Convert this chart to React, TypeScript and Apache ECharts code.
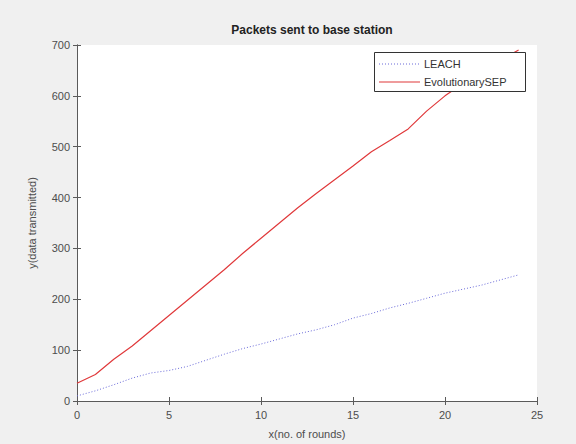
import React, { useEffect, useRef } from "react";
import * as echarts from "echarts";

const rounds = [0, 1, 2, 3, 4, 5, 6, 7, 8, 9, 10, 11, 12, 13, 14, 15, 16, 17, 18, 19, 20, 21, 22, 23, 24];
const leach = [10, 20, 32, 45, 55, 60, 68, 80, 92, 103, 112, 122, 132, 140, 150, 163, 172, 183, 192, 202, 212, 220, 228, 238, 248];
const evoSep = [35, 52, 82, 108, 138, 168, 198, 228, 258, 290, 320, 350, 380, 408, 435, 462, 490, 512, 535, 570, 600, 625, 650, 670, 690];
const seriesNames = ["LEACH", "EvolutionarySEP"];
const xTicks = [0, 5, 10, 15, 20, 25];
const yTicks = [0, 100, 200, 300, 400, 500, 600, 700];

export default function App() {
  const ref = useRef<HTMLDivElement>(null);
  useEffect(() => {
    const chart = echarts.init(ref.current!, null, { renderer: "svg" });
    const axisColor = "#5a5a5a";
    const font = "Liberation Sans, Arial, sans-serif";
    const labelStyle = { color: "#4d4d4d", fontSize: 11, fontFamily: font };
    const blue = "#6a6ad8";
    const red = "#e0393b";
    chart.setOption({
      animation: false,
      backgroundColor: "#f0f0f0",
      title: {
        text: "Packets sent to base station",
        left: 307,
        top: 19,
        textAlign: "center",
        textStyle: { fontSize: 12, fontWeight: "bold", color: "#222", fontFamily: font },
      },
      graphic: [
        {
          type: "rect",
          z: 100,
          shape: { x: 374.5, y: 52.5, width: 151, height: 39 },
          style: { fill: "#fff", stroke: "#333", lineWidth: 1 },
        },
        {
          type: "line",
          z: 101,
          shape: { x1: 379, y1: 64, x2: 420, y2: 64 },
          style: { stroke: blue, lineWidth: 1, lineDash: [1, 2] },
        },
        {
          type: "line",
          z: 101,
          shape: { x1: 379, y1: 82, x2: 420, y2: 82 },
          style: { stroke: red, lineWidth: 1.2 },
        },
        {
          type: "text",
          z: 101,
          x: 424,
          y: 64,
          style: { text: seriesNames[0], fill: "#333", fontSize: 11, fontFamily: font, verticalAlign: "middle" },
        },
        {
          type: "text",
          z: 101,
          x: 424,
          y: 82,
          style: { text: seriesNames[1], fill: "#333", fontSize: 11, fontFamily: font, verticalAlign: "middle" },
        },
      ],
      grid: { left: 77, right: 39, top: 45, bottom: 40, show: true, backgroundColor: "#fff", borderWidth: 0 },
      xAxis: [
        {
          type: "value",
          min: 0,
          max: 25,
          interval: 5,
          name: "x(no. of rounds)",
          nameLocation: "middle",
          nameGap: 27,
          nameTextStyle: { ...labelStyle },
          axisLine: { show: true, lineStyle: { color: axisColor } },
          axisTick: { show: true, inside: true, length: 4, lineStyle: { color: axisColor } },
          axisLabel: { ...labelStyle, margin: 8, formatter: (v: number) => (xTicks.includes(v) ? String(v) : "") },
          splitLine: { show: false },
        },
        {
          type: "value",
          position: "top",
          min: 0,
          max: 25,
          interval: 5,
          axisLine: { show: true, lineStyle: { color: axisColor } },
          axisTick: { show: true, inside: true, length: 4, lineStyle: { color: axisColor } },
          axisLabel: { show: false },
          splitLine: { show: false },
        },
      ],
      yAxis: [
        {
          type: "value",
          min: 0,
          max: 700,
          interval: 100,
          name: "y(data transmitted)",
          nameLocation: "middle",
          nameGap: 40,
          nameTextStyle: { ...labelStyle },
          axisLine: { show: true, lineStyle: { color: axisColor } },
          axisTick: { show: true, inside: true, length: 4, lineStyle: { color: axisColor } },
          axisLabel: { ...labelStyle, margin: 7, formatter: (v: number) => (yTicks.includes(v) ? String(v) : "") },
          splitLine: { show: false },
        },
        {
          type: "value",
          position: "right",
          min: 0,
          max: 700,
          interval: 100,
          axisLine: { show: true, lineStyle: { color: axisColor } },
          axisTick: { show: true, inside: true, length: 4, lineStyle: { color: axisColor } },
          axisLabel: { show: false },
          splitLine: { show: false },
        },
      ],
      series: [
        {
          name: seriesNames[0],
          type: "line",
          xAxisIndex: 0,
          yAxisIndex: 0,
          data: rounds.map((r, i) => [r, leach[i]]),
          showSymbol: false,
          symbol: "none",
          lineStyle: { color: blue, width: 1, type: [1, 2] },
          itemStyle: { color: blue },
        },
        {
          name: seriesNames[1],
          type: "line",
          xAxisIndex: 0,
          yAxisIndex: 0,
          data: rounds.map((r, i) => [r, evoSep[i]]),
          showSymbol: false,
          symbol: "none",
          lineStyle: { color: red, width: 1.2 },
          itemStyle: { color: red },
        },
      ],
    });
    return () => chart.dispose();
  }, []);
  return (
    <div
      ref={ref}
      style={{ position: "absolute", left: 0, top: 0, width: 576, height: 444 }}
    />
  );
}
